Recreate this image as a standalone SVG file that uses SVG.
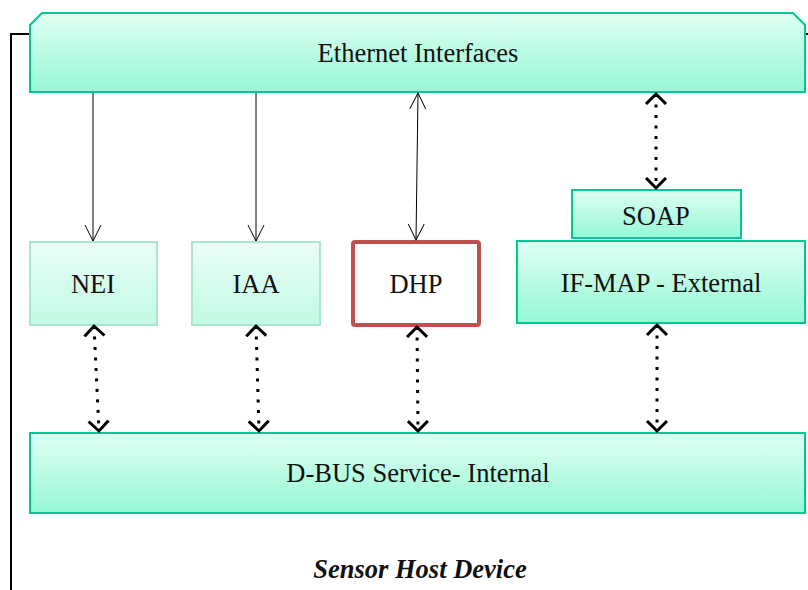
<svg xmlns="http://www.w3.org/2000/svg" width="808" height="590" viewBox="0 0 808 590">
  <defs>
    <linearGradient id="gradMint" x1="0" y1="0" x2="0" y2="1">
      <stop offset="0" stop-color="#e0fff2"/>
      <stop offset="1" stop-color="#95f8d6"/>
    </linearGradient>
    <linearGradient id="gradPale" x1="0" y1="0" x2="0" y2="1">
      <stop offset="0" stop-color="#eafff7"/>
      <stop offset="1" stop-color="#c2f9e4"/>
    </linearGradient>
    <marker id="thinHead" markerWidth="20" markerHeight="20" refX="16" refY="8" orient="auto-start-reverse" markerUnits="userSpaceOnUse" viewBox="0 0 20 16">
      <path d="M0,0 L16,8 L0,16" fill="none" stroke="#000" stroke-width="1"/>
    </marker>
    <marker id="boldHead" markerWidth="16" markerHeight="24" refX="11" refY="11" orient="auto-start-reverse" markerUnits="userSpaceOnUse" viewBox="0 0 16 22">
      <path d="M1,1 L11,11 L1,21" fill="none" stroke="#000" stroke-width="3"/>
    </marker>
  </defs>
  <style>
    text { font-family: "Liberation Serif", "Times New Roman", "DejaVu Serif", serif; }
    .label { font-size: 26.5px; fill: #111; text-anchor: middle; }
    .strong { fill: url(#gradMint); stroke: #00c994; stroke-width: 2; }
    .soft { fill: url(#gradPale); stroke: #a9e6cd; stroke-width: 2; }
    .solid { stroke: #000; stroke-width: 1; fill: none; }
    .dotted { stroke: #000; stroke-width: 3; stroke-dasharray: 3 7.5; fill: none; }
  </style>

  <!-- outer device frame -->
  <g id="frame">
    <path d="M30,34 H11 V590" fill="none" stroke="#000" stroke-width="2"/>
    <line x1="805" y1="34" x2="808" y2="34" stroke="#000" stroke-width="2"/>
  </g>

  <g id="ethernet">
    <path class="strong" d="M42,13 H793 L805,25 V92 H30 V25 Z"/>
    <text class="label" x="418" y="62">Ethernet Interfaces</text>
  </g>

  <g id="nei">
    <rect class="soft" x="30" y="242" width="127" height="83"/>
    <text class="label" x="93" y="293">NEI</text>
  </g>

  <g id="iaa">
    <rect class="soft" x="192" y="242" width="128" height="83"/>
    <text class="label" x="256" y="293">IAA</text>
  </g>

  <g id="dhp">
    <rect x="353" y="242" width="126" height="83" rx="2" fill="#fff" stroke="#c0504d" stroke-width="4"/>
    <text class="label" x="416" y="293">DHP</text>
  </g>

  <g id="soap">
    <rect class="strong" x="572" y="190" width="169" height="48"/>
    <text class="label" x="656" y="225">SOAP</text>
  </g>

  <g id="ifmap">
    <rect class="strong" x="517" y="241" width="288" height="82"/>
    <text class="label" x="661" y="292">IF-MAP - External</text>
  </g>

  <g id="dbus">
    <rect class="strong" x="30" y="433" width="775" height="80"/>
    <text class="label" x="418" y="482">D-BUS Service- Internal</text>
  </g>

  <g id="caption">
    <text class="label" x="420" y="578" font-weight="bold" font-style="italic">Sensor Host Device</text>
  </g>

  <g id="connectors">
    <line class="solid" x1="93" y1="93" x2="93" y2="241" marker-end="url(#thinHead)"/>
    <line class="solid" x1="256" y1="93" x2="256" y2="241" marker-end="url(#thinHead)"/>
    <line class="solid" x1="418" y1="93" x2="416" y2="240" marker-start="url(#thinHead)" marker-end="url(#thinHead)"/>
    <line class="dotted" x1="656" y1="94" x2="656" y2="188" marker-start="url(#boldHead)" marker-end="url(#boldHead)"/>
    <line class="dotted" x1="94" y1="326" x2="99" y2="431" marker-start="url(#boldHead)" marker-end="url(#boldHead)"/>
    <line class="dotted" x1="256" y1="326" x2="259" y2="431" marker-start="url(#boldHead)" marker-end="url(#boldHead)"/>
    <line class="dotted" x1="417" y1="327" x2="418" y2="431" marker-start="url(#boldHead)" marker-end="url(#boldHead)"/>
    <line class="dotted" x1="657" y1="325" x2="657" y2="431" marker-start="url(#boldHead)" marker-end="url(#boldHead)"/>
  </g>
</svg>
